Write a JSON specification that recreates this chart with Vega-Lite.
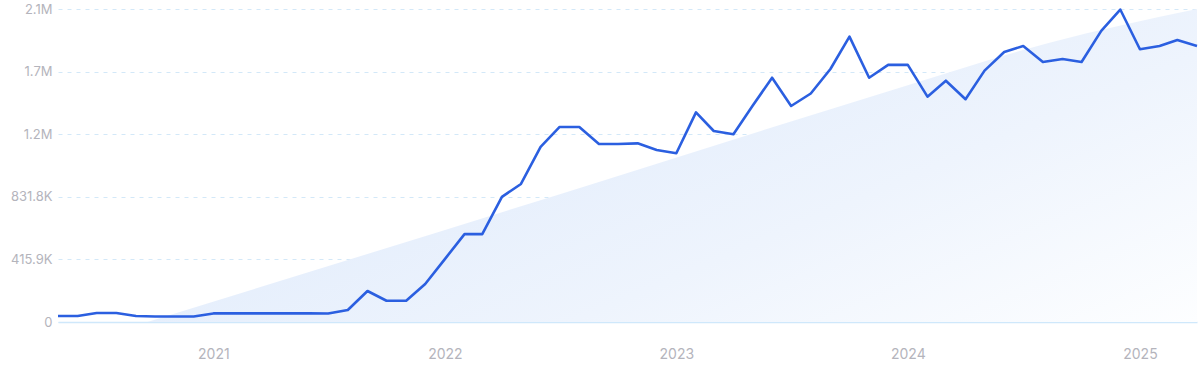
{
  "$schema": "https://vega.github.io/schema/vega-lite/v6.json",
  "width": 1139,
  "height": 313,
  "autosize": "none",
  "padding": {"left": 58, "top": 9, "right": 3, "bottom": 49},
  "background": "white",
  "config": {
    "view": {"stroke": null},
    "font": "Inter",
    "axis": {"labelFont": "Inter", "labelColor": "#b4b4bc", "labelFontSize": 13}
  },
  "datasets": {
    "series": [
      {"month": "2020-05-01", "value": 40000},
      {"month": "2020-06-01", "value": 40000},
      {"month": "2020-07-01", "value": 60000},
      {"month": "2020-08-01", "value": 60000},
      {"month": "2020-09-01", "value": 40000},
      {"month": "2020-10-01", "value": 37000},
      {"month": "2020-11-01", "value": 37000},
      {"month": "2020-12-01", "value": 37000},
      {"month": "2021-01-01", "value": 57000},
      {"month": "2021-02-01", "value": 57000},
      {"month": "2021-03-01", "value": 57000},
      {"month": "2021-04-01", "value": 57000},
      {"month": "2021-05-01", "value": 57000},
      {"month": "2021-06-01", "value": 57000},
      {"month": "2021-07-01", "value": 56000},
      {"month": "2021-08-01", "value": 80000},
      {"month": "2021-09-01", "value": 206000},
      {"month": "2021-10-01", "value": 141000},
      {"month": "2021-11-01", "value": 141000},
      {"month": "2021-12-01", "value": 252000},
      {"month": "2022-01-01", "value": 418000},
      {"month": "2022-02-01", "value": 584000},
      {"month": "2022-03-01", "value": 584000},
      {"month": "2022-04-01", "value": 831000},
      {"month": "2022-05-01", "value": 917000},
      {"month": "2022-06-01", "value": 1163000},
      {"month": "2022-07-01", "value": 1296000},
      {"month": "2022-08-01", "value": 1296000},
      {"month": "2022-09-01", "value": 1183000},
      {"month": "2022-10-01", "value": 1183000},
      {"month": "2022-11-01", "value": 1187000},
      {"month": "2022-12-01", "value": 1143000},
      {"month": "2023-01-01", "value": 1121000},
      {"month": "2023-02-01", "value": 1393000},
      {"month": "2023-03-01", "value": 1269000},
      {"month": "2023-04-01", "value": 1247000},
      {"month": "2023-05-01", "value": 1435000},
      {"month": "2023-06-01", "value": 1623000},
      {"month": "2023-07-01", "value": 1435000},
      {"month": "2023-08-01", "value": 1518000},
      {"month": "2023-09-01", "value": 1681000},
      {"month": "2023-10-01", "value": 1896000},
      {"month": "2023-11-01", "value": 1623000},
      {"month": "2023-12-01", "value": 1708000},
      {"month": "2024-01-01", "value": 1708000},
      {"month": "2024-02-01", "value": 1497000},
      {"month": "2024-03-01", "value": 1603000},
      {"month": "2024-04-01", "value": 1480000},
      {"month": "2024-05-01", "value": 1670000},
      {"month": "2024-06-01", "value": 1794000},
      {"month": "2024-07-01", "value": 1834000},
      {"month": "2024-08-01", "value": 1727000},
      {"month": "2024-09-01", "value": 1747000},
      {"month": "2024-10-01", "value": 1727000},
      {"month": "2024-11-01", "value": 1934000},
      {"month": "2024-12-01", "value": 2076000},
      {"month": "2025-01-01", "value": 1812000},
      {"month": "2025-02-01", "value": 1834000},
      {"month": "2025-03-01", "value": 1874000},
      {"month": "2025-04-01", "value": 1834000}
    ],
    "trendband": [
      {"month": "2020-09-19", "value": 0},
      {"month": "2022-09-01", "value": 930000},
      {"month": "2023-12-18", "value": 1555000},
      {"month": "2024-08-10", "value": 1854000},
      {"month": "2025-04-01", "value": 2079500}
    ]
  },
  "layer": [
    {
      "data": {"name": "trendband"},
      "mark": {
        "type": "area",
        "interpolate": "monotone",
        "color": {
          "gradient": "linear",
          "x1": 0, "y1": 0.3, "x2": 1, "y2": 1,
          "stops": [
            {"offset": 0, "color": "#dde9fb"},
            {"offset": 0.6, "color": "#eef4fd"},
            {"offset": 1, "color": "#fdfeff"}
          ]
        }
      },
      "encoding": {
        "x": {
          "field": "month", "type": "temporal",
          "scale": {"type": "utc", "domain": [{"year": 2020, "month": 5, "date": 1, "utc": true}, {"year": 2025, "month": 4, "date": 1, "utc": true}]},
          "axis": {
            "format": "%Y", "tickCount": {"interval": "year", "step": 1},
            "grid": false, "ticks": false, "domain": true, "domainColor": "#cfe8fb", "domainWidth": 1.5,
            "labelPadding": 25, "title": null, "labelFontSize": 14
          }
        },
        "y": {
          "field": "value", "type": "quantitative",
          "scale": {"domain": [0, 2079500], "nice": false},
          "axis": {
            "values": [0, 415900, 831800, 1247700, 1663600, 2079500],
            "labelExpr": "datum.value == 0 ? '0' : (datum.value < 1000000 ? format(datum.value / 1000, '.1f') + 'K' : format(datum.value / 1000000, '.1f') + 'M')",
            "grid": true, "gridColor": "#d3e8f8", "gridDash": [4, 5], "gridWidth": 1,
            "ticks": false, "domain": false, "labelPadding": 6, "title": null
          }
        }
      }
    },
    {
      "data": {"name": "series"},
      "mark": {"type": "line", "color": "#2b5fe0", "strokeWidth": 2.6, "strokeJoin": "round"},
      "encoding": {
        "x": {"field": "month", "type": "temporal"},
        "y": {"field": "value", "type": "quantitative"}
      }
    }
  ]
}
